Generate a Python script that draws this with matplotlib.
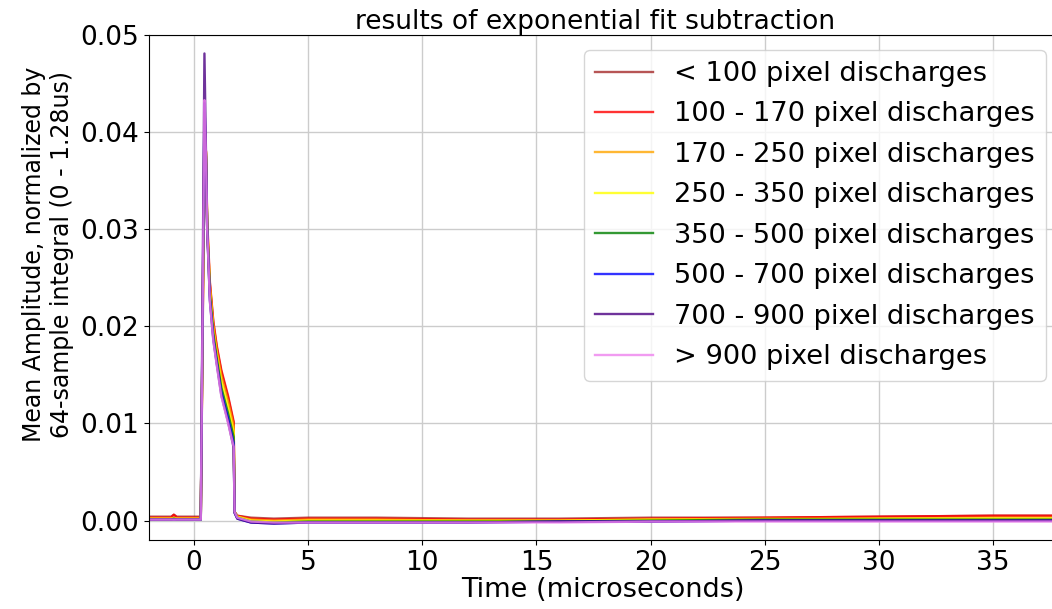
import numpy as np
import matplotlib
matplotlib.use("Agg")
import matplotlib.pyplot as plt

# time axis (microseconds)
t = [-1.97, -1.5, -1.0, -0.88, -0.75, -0.4, 0.0, 0.30, 0.46, 0.53,
     0.58, 0.70, 0.85, 1.0, 1.2, 1.5, 1.74, 1.78, 1.9, 2.5,
     3.5, 5.0, 8.0, 12.0, 16.0, 20.0, 25.0, 30.0, 35.0, 38.0]

labels = ["< 100 pixel discharges", "100 - 170 pixel discharges",
          "170 - 250 pixel discharges", "250 - 350 pixel discharges",
          "350 - 500 pixel discharges", "500 - 700 pixel discharges",
          "700 - 900 pixel discharges", "> 900 pixel discharges"]
colors = ["brown", "red", "orange", "yellow", "green", "blue", "indigo", "violet"]

lt100 = [0.0004, 0.0004, 0.0004, 0.0006, 0.0004, 0.0004, 0.0004, 0.0004, 0.0370, 0.0360,
         0.0300, 0.0243, 0.0203, 0.0178, 0.0153, 0.0126, 0.0100, 0.0009, 0.0005, 0.0003,
         0.0002, 0.0003, 0.0003, 0.0002, 0.0002, 0.0003, 0.0003, 0.0004, 0.0005, 0.0005]
b100_170 = [0.0003, 0.0003, 0.0003, 0.0006, 0.0003, 0.0003, 0.0003, 0.0003, 0.0390, 0.0380,
            0.0310, 0.0245, 0.0205, 0.0180, 0.0155, 0.0128, 0.0102, 0.0009, 0.0005, 0.0002,
            0.0001, 0.0002, 0.0002, 0.0001, 0.0001, 0.0002, 0.0003, 0.0004, 0.0005, 0.0005]
b170_250 = [0.0002, 0.0002, 0.0002, 0.0003, 0.0002, 0.0002, 0.0002, 0.0002, 0.0400, 0.0378,
            0.0307, 0.0240, 0.0200, 0.0175, 0.0149, 0.0122, 0.0097, 0.0009, 0.0004, 0.0001,
            0.0000, 0.0001, 0.0001, 0.0000, 0.0000, 0.0001, 0.0002, 0.0002, 0.0003, 0.0003]
b250_350 = [0.0002, 0.0002, 0.0002, 0.0002, 0.0002, 0.0002, 0.0002, 0.0002, 0.0410, 0.0376,
            0.0305, 0.0236, 0.0196, 0.0171, 0.0143, 0.0116, 0.0092, 0.0009, 0.0004, 0.0000,
            -0.0001, 0.0000, 0.0000, 0.0000, 0.0000, 0.0001, 0.0001, 0.0002, 0.0002, 0.0002]
b350_500 = [0.0001, 0.0001, 0.0001, 0.0002, 0.0001, 0.0001, 0.0001, 0.0001, 0.0420, 0.0374,
            0.0303, 0.0232, 0.0192, 0.0167, 0.0137, 0.0110, 0.0086, 0.0009, 0.0003, -0.0001,
            -0.0002, -0.0001, -0.0001, -0.0001, -0.0001, 0.0000, 0.0001, 0.0001, 0.0001, 0.0001]
b500_700 = [0.0001, 0.0001, 0.0001, 0.0001, 0.0001, 0.0001, 0.0001, 0.0001, 0.0430, 0.0372,
            0.0301, 0.0228, 0.0188, 0.0163, 0.0132, 0.0105, 0.0080, 0.0008, 0.0002, -0.0002,
            -0.0003, -0.0002, -0.0002, -0.0002, -0.0001, -0.0001, 0.0000, 0.0000, 0.0000, 0.0000]
b700_900 = [0.0001, 0.0001, 0.0001, 0.0001, 0.0001, 0.0001, 0.0001, 0.0001, 0.0481, 0.0375,
            0.0300, 0.0226, 0.0186, 0.0161, 0.0129, 0.0101, 0.0075, 0.0008, 0.0002, -0.0002,
            -0.0003, -0.0002, -0.0002, -0.0002, -0.0001, -0.0001, 0.0000, 0.0000, 0.0000, 0.0000]
gt900 = [0.0001, 0.0001, 0.0001, 0.0001, 0.0001, 0.0001, 0.0001, 0.0001, 0.0433, 0.0370,
         0.0300, 0.0225, 0.0185, 0.0160, 0.0128, 0.0100, 0.0076, 0.0009, 0.0003, -0.0001,
         -0.0002, -0.0002, -0.0002, -0.0002, -0.0002, -0.0001, -0.0001, -0.0001, -0.0001, -0.0001]

series = [lt100, b100_170, b170_250, b250_350, b350_500, b500_700, b700_900, gt900]

fig = plt.figure(figsize=(10.52, 6.09), dpi=100)
ax = fig.add_axes([0.1416, 0.1133, 0.862, 0.8292])

for y, c, lab in zip(series, colors, labels):
    ax.plot(t, y, color=c, lw=1.7, alpha=0.8, label=lab)

ax.set_xlim(-1.97, 37.75)
ax.set_ylim(-0.002, 0.05)
ax.set_xticks([0, 5, 10, 15, 20, 25, 30, 35])
ax.set_yticks([0.0, 0.01, 0.02, 0.03, 0.04, 0.05])
ax.yaxis.set_major_formatter(matplotlib.ticker.FormatStrFormatter("%.2f"))
ax.grid(True, color="#cccccc", lw=1)
ax.tick_params(labelsize=19)
ax.spines["right"].set_visible(False)

ax.set_title("results of exponential fit subtraction", fontsize=19, x=0.492, pad=3)
ax.set_xlabel("Time (microseconds)", fontsize=19.5, labelpad=1)
ax.set_ylabel("Mean Amplitude, normalized by\n64-sample integral (0 - 1.28us)", fontsize=17)
ax.yaxis.set_label_coords(-0.083, 0.566)
ax.legend(loc="upper right", bbox_to_anchor=(0.989, 0.970), borderaxespad=0,
          fontsize=19.6, handlelength=2.1, labelspacing=0.53)

fig.savefig("out.png", dpi=100)
